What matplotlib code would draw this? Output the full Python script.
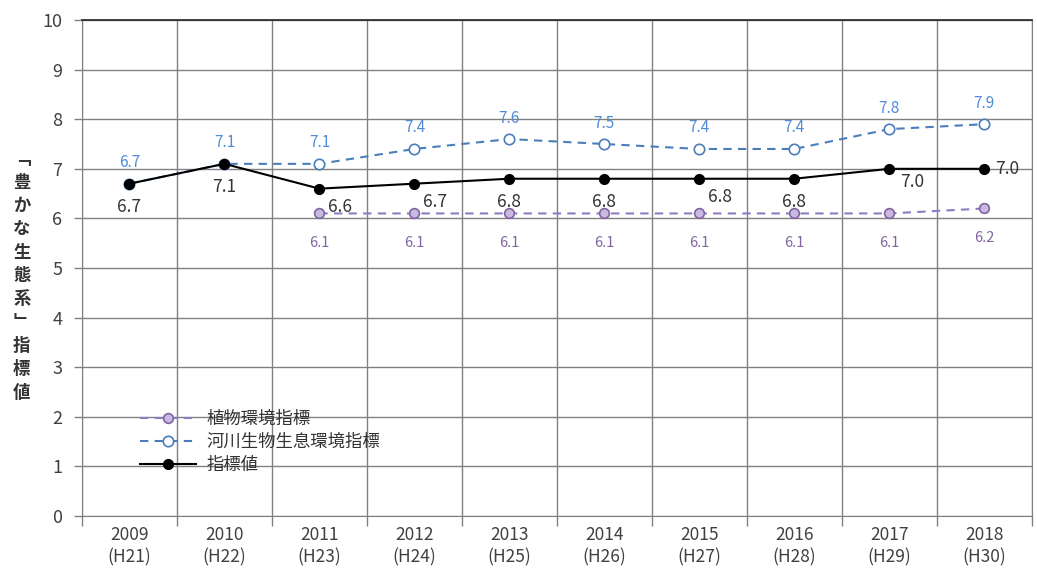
import matplotlib
matplotlib.use("Agg")
import matplotlib.pyplot as plt
import numpy as np

plt.rcParams['font.family'] = ['Noto Sans CJK JP', 'DejaVu Sans']

years = ["2009\n(H21)", "2010\n(H22)", "2011\n(H23)", "2012\n(H24)", "2013\n(H25)",
         "2014\n(H26)", "2015\n(H27)", "2016\n(H28)", "2017\n(H29)", "2018\n(H30)"]
plant_env = [None, None, 6.1, 6.1, 6.1, 6.1, 6.1, 6.1, 6.1, 6.2]
river_habitat = [6.7, 7.1, 7.1, 7.4, 7.6, 7.5, 7.4, 7.4, 7.8, 7.9]
index_value = [6.7, 7.1, 6.6, 6.7, 6.8, 6.8, 6.8, 6.8, 7.0, 7.0]

names = ["植物環境指標", "河川生物生息環境指標", "指標値"]
ylabel_chars = ["﹁", "豊", "か", "な", "生", "態", "系", "﹂", "指", "標", "値"]

fig = plt.figure(figsize=(10.37, 5.81), dpi=100)
ax = fig.add_axes([0.079, 0.112, 0.916, 0.8535])

x = np.arange(len(years))
grid_c = "#808080"

# plant environment index (from 2011)
px = [i for i, v in enumerate(plant_env) if v is not None]
pv = [plant_env[i] for i in px]
ax.plot(px, pv, ls=(0, (4, 3)), color="#8e7cc3", lw=1.5, marker="o", ms=7,
        mfc="#c9b8e0", mec="#8064a2", mew=1.2, label=names[0], zorder=3)

# river habitat index
ax.plot(x, river_habitat, ls=(0, (4, 3)), color="#4a7ebb", lw=1.5, marker="o", ms=7.5,
        mfc="white", mec="#4a7ebb", mew=1.2, label=names[1], zorder=3)

# combined index value
ax.plot(x, index_value, ls="-", color="black", lw=1.5, marker="o", ms=7,
        mfc="black", mec="black", label=names[2], zorder=4)

# value labels
for i, v in zip(px, pv):
    ax.annotate(f"{v:.1f}", (i, v), xytext=(0, -16), textcoords="offset points",
                ha="center", va="top", fontsize=10.5, color="#8064a2")
for i, v in enumerate(river_habitat):
    ax.annotate(f"{v:.1f}", (i, v), xytext=(0, 9), textcoords="offset points",
                ha="center", va="bottom", fontsize=11, color="#4f8bd6")
black_offsets = [(0, -10), (0, -10), (6, -7), (6, -7), (0, -10),
                 (0, -10), (6, -7), (0, -10), (8, -3), (8, 0)]
for i, v in enumerate(index_value):
    dx, dy = black_offsets[i]
    ha = "center" if dx == 0 else "left"
    va = "top" if dy != 0 else "center"
    ax.annotate(f"{v:.1f}", (i, v), xytext=(dx, dy),
                textcoords="offset points", ha=ha, va=va, fontsize=12.5, color="#333333")

ax.set_xlim(-0.5, len(years) - 0.5)
ax.set_ylim(0, 10)
ax.set_yticks(range(0, 11))
ax.set_xticks(x)
ax.set_xticklabels(years, fontsize=12.5, color="#404040", linespacing=1.3)
ax.set_xticks(np.arange(-0.5, len(years) + 0.5, 1), minor=True)
ax.tick_params(axis="x", which="major", length=0, pad=7)
ax.tick_params(axis="x", which="minor", length=7, color=grid_c, width=1)
ax.tick_params(axis="y", which="major", length=6, color=grid_c, width=1,
               labelsize=13, labelcolor="#404040", pad=8)

ax.grid(True, axis="y", color=grid_c, lw=1)
ax.grid(True, axis="x", which="minor", color=grid_c, lw=1)
ax.set_axisbelow(True)
for side in ["left", "bottom", "right"]:
    ax.spines[side].set_color(grid_c)
ax.spines["top"].set_color("#303030")
ax.spines["top"].set_linewidth(1.3)

# vertical axis title, one glyph per line
fig.text(0.021, 0.525, "\n".join(ylabel_chars), ha="center", va="center",
         fontsize=12.5, fontweight="bold", color="#333333", linespacing=1.38)

ax.legend(loc="upper left", bbox_to_anchor=(0.045, 0.245), frameon=False,
          fontsize=12.5, handlelength=3.2, handletextpad=0.6, labelspacing=0.3,
          labelcolor="#333333")

fig.savefig("out.png", dpi=100)
